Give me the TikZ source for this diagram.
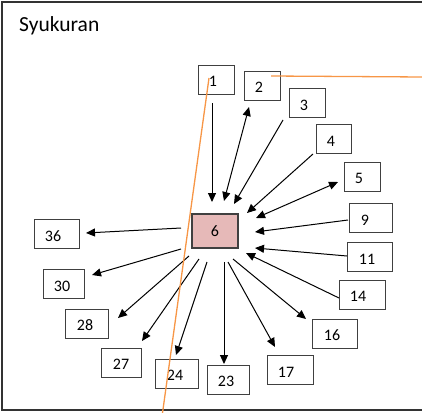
\documentclass[tikz,border=0pt]{standalone}
\usepackage{fontspec}
\setmainfont{Carlito}
\usetikzlibrary{arrows.meta}
\definecolor{frame}{HTML}{333333}
\definecolor{boxline}{HTML}{404040}
\definecolor{pinkfill}{HTML}{E6B9B8}
\definecolor{orangeline}{HTML}{F79646}
\begin{document}
\begin{tikzpicture}[x=1pt,y=-1pt,
  box/.style={draw=boxline, line width=0.9pt, fill=white, inner sep=0pt,
    minimum height=29pt, font=\fontsize{16}{16}\selectfont,
    text height=14pt, text depth=0pt},
  bx/.style={box, execute at begin node={\hspace*{#1}}},
  arr/.style={line width=1pt, -{Triangle[length=9pt,width=8pt]}},
  darr/.style={line width=1pt, {Triangle[length=9pt,width=8pt]}-{Triangle[length=9pt,width=8pt]}},
  oline/.style={draw=orangeline, line width=1.3pt}]
\useasboundingbox (0,0) rectangle (422,412);
% frame
\draw[frame, line width=2pt] (423,2) -- (2,2) -- (2,410) -- (423,410);
% title
\node[anchor=base west, inner sep=0pt, font=\fontsize{21.5}{21.5}\selectfont] (title) at (19,32) {Syukuran};
% boxes
\node[bx=-6pt, minimum width=36pt] (n1) at (216,79.5) {1};
\node[bx=-6pt, minimum width=36pt] (n2) at (262,85.5) {2};
\node[bx=-6pt, minimum width=36pt] (n3) at (307,103) {3};
\node[bx=-5pt, minimum width=35pt] (n4) at (333.5,139) {4};
\node[bx=-6pt, minimum width=36pt] (n5) at (362,176.5) {5};
\node[bx=-11pt, minimum width=43pt] (n9) at (370.5,218) {9};
\node[bx=-5pt, minimum width=45pt] (n11) at (369.5,257) {11};
\node[bx=-8pt, minimum width=46pt] (n14) at (362,294.5) {14};
\node[bx=-5pt, minimum width=45pt] (n16) at (334.5,333.5) {16};
\node[bx=-8pt, minimum width=46pt] (n17) at (290,370) {17};
\node[bx=-4pt, minimum width=42pt] (n23) at (228,379.5) {23};
\node[bx=-3pt, minimum width=43pt] (n24) at (176.5,373.5) {24};
\node[bx=0pt, minimum width=40pt] (n27) at (121,362.5) {27};
\node[bx=-3pt, minimum width=43pt] (n28) at (86.5,323.5) {28};
\node[bx=-3pt, minimum width=41pt] (n30) at (63.5,284) {30};
\node[bx=-7pt, minimum width=45pt] (n36) at (56.5,234) {36};
\node[box, fill=pinkfill, line width=1.2pt, minimum width=46pt, minimum height=34pt,
  text height=11pt] (n6) at (215,231) {6};
% arrow end points
\coordinate (a1s) at (212,103);   \coordinate (a1e) at (212,202);
\coordinate (a2s) at (249,107);   \coordinate (a2e) at (224,201);
\coordinate (a3s) at (283,120);   \coordinate (a3e) at (234,204);
\coordinate (a4s) at (313,154);   \coordinate (a4e) at (247,213);
\coordinate (a5s) at (338,182);   \coordinate (a5e) at (256,218);
\coordinate (a9s) at (348,220);   \coordinate (a9e) at (255,232);
\coordinate (a11s) at (347,256);  \coordinate (a11e) at (255,248);
\coordinate (a14s) at (339,298);  \coordinate (a14e) at (246,253);
\coordinate (a16s) at (233,259);  \coordinate (a16e) at (306,319);
\coordinate (a17s) at (228,262);  \coordinate (a17e) at (275,347);
\coordinate (a23s) at (224,262);  \coordinate (a23e) at (224,364);
\coordinate (a24s) at (207,262);  \coordinate (a24e) at (176,355);
\coordinate (a27s) at (199,259);  \coordinate (a27e) at (142,341);
\coordinate (a28s) at (189,256);  \coordinate (a28e) at (118,318);
\coordinate (a30s) at (181,249);  \coordinate (a30e) at (92,275);
\coordinate (a36s) at (181,228);  \coordinate (a36e) at (86,233);
% arrows
\draw[arr] (a1s) -- (a1e);
\draw[darr] (a2s) -- (a2e);
\draw[arr] (a3s) -- (a3e);
\draw[arr] (a4s) -- (a4e);
\draw[darr] (a5s) -- (a5e);
\draw[arr] (a9s) -- (a9e);
\draw[arr] (a11s) -- (a11e);
\draw[arr] (a14s) -- (a14e);
\draw[arr] (a16s) -- (a16e);
\draw[arr] (a17s) -- (a17e);
\draw[arr] (a23s) -- (a23e);
\draw[arr] (a24s) -- (a24e);
\draw[arr] (a27s) -- (a27e);
\draw[arr] (a28s) -- (a28e);
\draw[arr] (a30s) -- (a30e);
\draw[arr] (a36s) -- (a36e);
% orange lines
\coordinate (o1s) at (271,76);  \coordinate (o1e) at (423,77);
\coordinate (o2s) at (209,78);  \coordinate (o2e) at (162.5,413);
\draw[oline] (o1s) -- (o1e);
\draw[oline] (o2s) -- (o2e);
\end{tikzpicture}
\end{document}
